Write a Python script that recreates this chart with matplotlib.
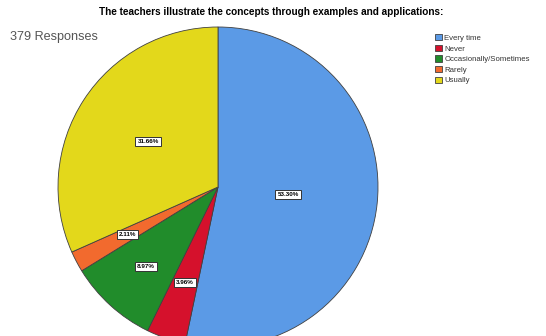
import numpy as np
import matplotlib.pyplot as plt

# survey answers (379 responses)
categories = ['Every time', 'Never', 'Occasionally/Sometimes', 'Rarely', 'Usually']
counts = [202, 15, 34, 8, 120]
colors = ['#5b9ae6', '#d5112c', '#218c2b', '#f26a2e', '#e3d81b']
label_radius = [0.44, 0.63, 0.67, 0.64, 0.52]

total = sum(counts)
pcts = [c / total * 100 for c in counts]

fig = plt.figure(figsize=(5.46, 3.36), dpi=100)
ax = fig.add_axes([0, 0, 1, 1])

cx, cy, r = 218, 149, 160
wedges, _ = ax.pie(counts, colors=colors, startangle=90, counterclock=False,
                   center=(cx, cy), radius=r, frame=True,
                   wedgeprops=dict(edgecolor='#404040', linewidth=0.6))
ax.set_xlim(0, 546)
ax.set_ylim(0, 336)
ax.set_aspect('equal')
ax.axis('off')

for w, p, lr in zip(wedges, pcts, label_radius):
    ang = np.deg2rad((w.theta1 + w.theta2) / 2)
    x = cx + lr * r * np.cos(ang)
    y = cy + lr * r * np.sin(ang)
    ax.text(x, y, '%.2f%%' % p, ha='center', va='center', fontsize=4.5,
            fontweight='bold', family='Liberation Sans',
            bbox=dict(boxstyle='square,pad=0.35', fc='white', ec='#333333', lw=0.7))

fig.text(0.497, 0.965, 'The teachers illustrate the concepts through examples and applications:',
         ha='center', va='center', fontsize=7.2, fontweight='bold', family='Liberation Sans')
fig.text(10 / 546, 1 - 37 / 336, '379 Responses', ha='left', va='center',
         fontsize=9.1, color='#555555', family='Liberation Sans')

fig.legend(wedges, categories, loc='upper left', bbox_to_anchor=(428 / 546, 1 - 27 / 336),
           frameon=False, prop=dict(family='Liberation Sans', size=5.6),
           handlelength=0.9, handleheight=0.9, handletextpad=0.3, labelspacing=0.35,
           labelcolor='#333333')

fig.savefig('out.png', dpi=100)
